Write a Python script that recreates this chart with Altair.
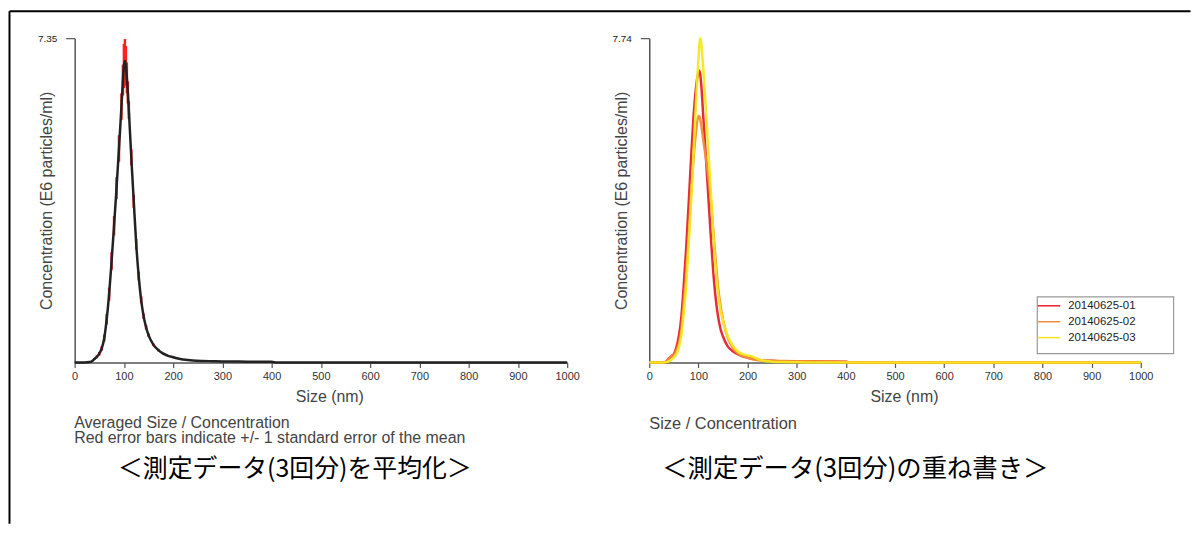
import altair as alt
import pandas as pd

# ---------------- data ----------------
x_ticks = [0, 100, 200, 300, 400, 500, 600, 700, 800, 900, 1000]
y_max_avg = 7.35
y_max_runs = 7.74

# averaged measurement (left panel)
sizes_avg = [0, 20, 30, 35, 40, 45, 50, 55, 60, 65,
             70, 75, 80, 85, 90, 95, 98, 100, 102, 104,
             106, 108, 110, 115, 120, 125, 130, 135, 140, 145,
             150, 160, 170, 180, 190, 200, 210, 220, 230, 240,
             260, 280, 300, 350, 400, 410, 500, 600, 700, 800,
             900, 1000]
mean_avg = [0, 0, 0.01, 0.03, 0.08, 0.13, 0.2, 0.32, 0.55, 0.98,
            1.55, 2.3, 3.1, 3.95, 4.85, 5.8, 6.4, 6.72, 6.83, 6.72,
            6.45, 6.12, 5.72, 4.65, 3.65, 2.68, 1.96, 1.42, 1.05, 0.8,
            0.62, 0.4, 0.28, 0.2, 0.15, 0.12, 0.09, 0.07, 0.055, 0.045,
            0.035, 0.03, 0.025, 0.02, 0.015, 0, 0, 0, 0, 0,
            0, 0]
se_avg = [0, 0, 0, 0.01, 0.02, 0.03, 0.04, 0.05, 0.08, 0.12,
          0.15, 0.2, 0.22, 0.25, 0.3, 0.3, 0.35, 0.5, 0.5, 0.45,
          0.35, 0.25, 0.2, 0.18, 0.15, 0.12, 0.1, 0.08, 0.06, 0.05,
          0.04, 0.03, 0.03, 0.02, 0.02, 0.02, 0.01, 0.01, 0.01, 0.01,
          0.01, 0.01, 0.01, 0.01, 0.01, 0, 0, 0, 0, 0,
          0, 0]

# three individual runs (right panel)
sizes_runs = [0, 30, 35, 40, 45, 50, 55, 60, 65, 70,
              75, 80, 85, 90, 95, 100, 102, 104, 106, 110,
              115, 120, 125, 130, 135, 140, 145, 150, 160, 170,
              180, 190, 200, 210, 220, 230, 250, 270, 300, 350,
              400, 410, 1000]
run01 = [0, 0, 0.03, 0.1, 0.15, 0.2, 0.35, 0.62, 1.05, 1.81,
         2.7, 3.75, 4.85, 5.85, 6.55, 6.92, 6.96, 6.85, 6.6, 5.85,
         4.95, 4.0, 3.05, 2.2, 1.55, 1.1, 0.8, 0.62, 0.38, 0.27,
         0.2, 0.15, 0.12, 0.09, 0.07, 0.05, 0.04, 0.03, 0.03, 0.025,
         0.02, 0, 0]
run02 = [0, 0, 0.02, 0.08, 0.15, 0.18, 0.28, 0.45, 0.75, 1.4,
         2.1, 3.0, 4.0, 4.85, 5.5, 5.88, 5.87, 5.78, 5.65, 5.3,
         4.9, 4.45, 3.9, 3.2, 2.45, 1.8, 1.35, 1.02, 0.58, 0.35,
         0.22, 0.15, 0.11, 0.08, 0.06, 0.05, 0.04, 0.035, 0.03, 0.025,
         0.02, 0, 0]
run03 = [0, 0, 0.01, 0.03, 0.06, 0.12, 0.2, 0.35, 0.62, 1.15,
         1.81, 2.8, 3.8, 5.0, 6.2, 7.25, 7.6, 7.74, 7.6, 7.0,
         6.1, 5.1, 4.15, 3.1, 2.25, 1.65, 1.25, 1.0, 0.62, 0.4,
         0.27, 0.2, 0.17, 0.14, 0.09, 0.05, 0.02, 0.01, 0.005, 0,
         0, 0, 0]
run_names = ["20140625-01", "20140625-02", "20140625-03"]
run_colors = ["#e8202a", "#f28c38", "#f5e81c"]

captions_left = ["Averaged Size / Concentration",
                 "Red error bars indicate +/- 1 standard error of the mean"]
caption_right = "Size / Concentration"
title_left_jp = "＜測定データ(3回分)を平均化＞"
title_right_jp = "＜測定データ(3回分)の重ね書き＞"
x_title = "Size (nm)"
y_title = "Concentration (E6 particles/ml)"

# ---------------- styling ----------------
FONT = "Liberation Sans"
JP = "Noto Sans CJK JP"
W_L, W_R, H = 495, 494, 326

avg_df = pd.DataFrame({"size": sizes_avg, "mean": mean_avg, "se": se_avg})
avg_df["lo"] = (avg_df["mean"] - avg_df["se"]).clip(lower=0)
avg_df["hi"] = (avg_df["mean"] + avg_df["se"]).clip(upper=y_max_avg)
err_df = avg_df[avg_df["se"] > 0]

runs_df = pd.concat([
    pd.DataFrame({"size": sizes_runs, "conc": vals, "run": name})
    for vals, name in zip([run01, run02, run03], run_names)
])

one = pd.DataFrame({"k": [0]})


def x_enc():
    return alt.X("size:Q",
                 scale=alt.Scale(domain=[0, 1000], nice=False),
                 axis=alt.Axis(values=x_ticks, format="d", title=x_title,
                               tickSize=5, labelPadding=3, labelFlush=False,
                               titleY=34, titleX=256, titleBaseline="middle"))


def y_axis(ymax):
    return alt.Axis(values=[ymax], format=".2f", title=y_title, tickSize=9,
                    labelPadding=9, labelColor="#222", labelFontSize=10,
                    titleAngle=270, titleX=-20, titleY=H / 2,
                    titleAlign="center", titleBaseline="bottom")


def text_layer(txt, x, y, size, color, font):
    return alt.Chart(one).mark_text(align="left", baseline="middle", font=font,
                                    fontSize=size, color=color).encode(
        x=alt.value(x), y=alt.value(y), text=alt.value(txt))


# ---------------- left panel ----------------
border_v = alt.Chart(one).mark_rule(color="black", strokeWidth=2).encode(
    x=alt.value(-65.5), y=alt.value(-27), y2=alt.value(488))
border_h = alt.Chart(one).mark_rule(color="black", strokeWidth=2).encode(
    x=alt.value(-65.5), x2=alt.value(1121.5), y=alt.value(-27))

err = alt.Chart(err_df).mark_rule(color="#ff2020", strokeWidth=2.5).encode(
    x=x_enc(),
    y=alt.Y("lo:Q", scale=alt.Scale(domain=[0, y_max_avg], nice=False),
            axis=y_axis(y_max_avg)),
    y2="hi:Q")
mean_line = alt.Chart(avg_df).mark_line(color="#222222", strokeWidth=2.5,
                                        interpolate="monotone").encode(
    x=x_enc(),
    y=alt.Y("mean:Q", scale=alt.Scale(domain=[0, y_max_avg], nice=False),
            axis=y_axis(y_max_avg)))

left = alt.layer(
    border_v, border_h, err, mean_line,
    text_layer(captions_left[0], -0.5, 387, 16, "#444", FONT),
    text_layer(captions_left[1], -0.5, 402, 16, "#444", FONT),
    text_layer(title_left_jp, 43.5, 433, 25, "#000", JP),
).properties(width=W_L, height=H)

# ---------------- right panel ----------------
lines = alt.Chart(runs_df).mark_line(strokeWidth=2.5, interpolate="monotone",
                                     opacity=0.95).encode(
    x=x_enc(),
    y=alt.Y("conc:Q", scale=alt.Scale(domain=[0, y_max_runs], nice=False),
            axis=y_axis(y_max_runs)),
    color=alt.Color("run:N", scale=alt.Scale(domain=run_names, range=run_colors),
                    legend=None),
    detail="run:N")

legend_box = alt.Chart(one).mark_rect(fill="white", stroke="#999999",
                                      strokeWidth=1.2).encode(
    x=alt.value(390), x2=alt.value(527), y=alt.value(260), y2=alt.value(317))
legend_layers = [legend_box]
for i, (nm, col) in enumerate(zip(run_names, run_colors)):
    yy = 269 + 16 * i
    legend_layers.append(alt.Chart(one).mark_rule(color=col, strokeWidth=1.5).encode(
        x=alt.value(390.5), x2=alt.value(413), y=alt.value(yy)))
    legend_layers.append(text_layer(nm, 421, yy, 11.5, "#222", FONT))

right = alt.layer(
    lines, *legend_layers,
    text_layer(caption_right, 0, 388, 16.5, "#444", FONT),
    text_layer(title_right_jp, 13, 433, 25.5, "#000", JP),
).properties(width=W_R, height=H)

chart = alt.HConcatChart(hconcat=[left, right], spacing=82.5, bounds="flush",
                         padding=0, background="white").configure_view(
    stroke="transparent").configure_axis(
    grid=False, domainColor="#555555", domainWidth=1.5, tickColor="#555555",
    tickWidth=1.2, labelFont=FONT, labelFontSize=11, labelColor="#333333",
    titleFont=FONT, titleFontSize=16, titleColor="#444444",
    titleFontWeight="normal")

chart.save("out.html", embed_options={"renderer": "svg", "actions": False})
